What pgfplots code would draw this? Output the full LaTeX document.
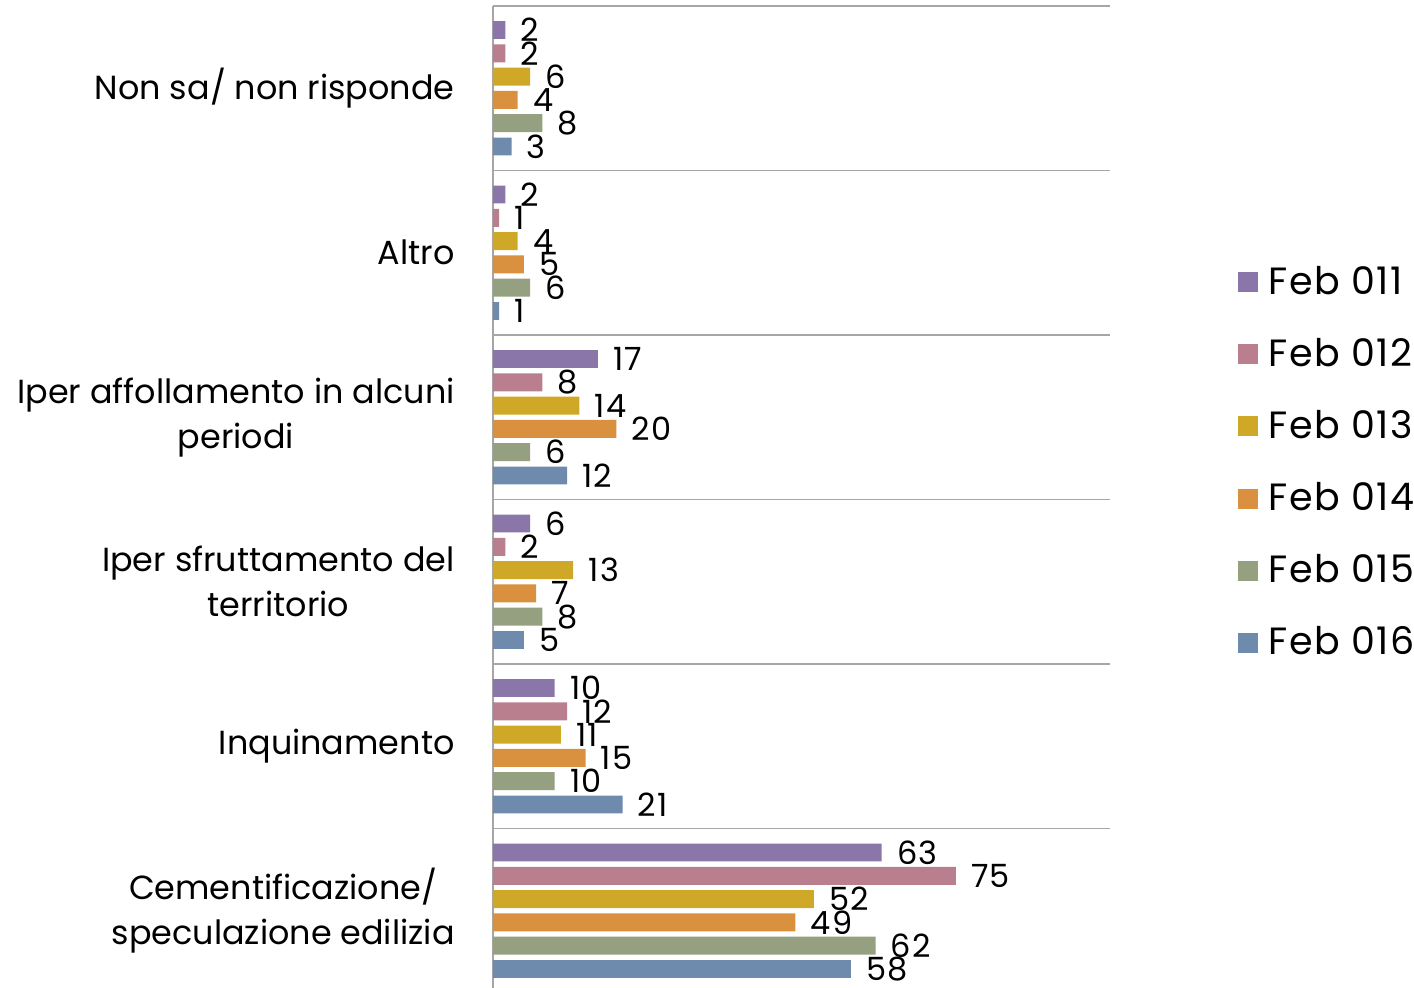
\documentclass[border=0pt]{standalone}
\usepackage{fontspec}
\setmainfont{Poppins}
\usepackage{pgfplots}
\pgfplotsset{compat=1.18}
\definecolor{c1}{HTML}{8B76A9}
\definecolor{c2}{HTML}{B97F8F}
\definecolor{c3}{HTML}{CFA828}
\definecolor{c4}{HTML}{D9903F}
\definecolor{c5}{HTML}{94A07F}
\definecolor{c6}{HTML}{6E8BAD}
\definecolor{gridc}{HTML}{A6A6A6}
\begin{document}
\begin{tikzpicture}[x=1pt,y=1pt]
\begin{axis}[
  at={(246.5pt,-2.5pt)}, anchor=south west,
  scale only axis, width=308.5pt, height=493.5pt,
  xbar, bar width=0.109,
  xmin=0, xmax=100, ymin=-0.5, ymax=5.5, y dir=reverse,
  axis line style={draw=none},
  clip=false,
  xtick=\empty,
  ytick={0,1,2,3,4,5},
  yticklabels={Non sa/ non risponde, Altro, {Iper affollamento in alcuni\\periodi}, {Iper sfruttamento del\\territorio}, Inquinamento, {Cementificazione/\\speculazione edilizia}},
  yticklabel style={align=center, inner sep=0pt, font=\fontsize{16.7}{22.5}\selectfont},
  yticklabel shift=19pt,
  major tick length=0pt, minor tick length=0pt,
  minor ytick={-0.5,0.5,1.5,2.5,3.5,4.5,5.5},
  yminorgrids, minor y grid style={color=gridc, line width=0.6pt},
  extra x ticks={0}, extra x tick labels={},
  extra x tick style={grid=major, major grid style={color=gridc, line width=0.6pt}},
  nodes near coords,
  every node near coord/.append style={anchor=west, inner sep=0pt, xshift=7.5pt, font=\fontsize{16}{16}\selectfont\addfontfeature{LetterSpace=4}, text=black},
  /pgf/number format/assume math mode=true,
  legend style={at={(1.2075,0.538)}, anchor=west, draw=none, fill=none, inner sep=0pt,
    nodes={inner sep=0pt}, column sep=5pt, row sep=20.5pt,
    font=\fontsize{19}{22}\selectfont\addfontfeature{LetterSpace=4}},
  legend cell align=left,
  legend image code/.code={\fill[#1] (0pt,-5.25pt) rectangle (10pt,4.75pt);},
]
\addplot[fill=c1, draw=none, bar shift=-0.354] coordinates {(2,0) (2,1) (17,2) (6,3) (10,4) (63,5)};
\addplot[fill=c2, draw=none, bar shift=-0.2125] coordinates {(2,0) (1,1) (8,2) (2,3) (12,4) (75,5)};
\addplot[fill=c3, draw=none, bar shift=-0.0708] coordinates {(6,0) (4,1) (14,2) (13,3) (11,4) (52,5)};
\addplot[fill=c4, draw=none, bar shift=0.0708] coordinates {(4,0) (5,1) (20,2) (7,3) (15,4) (49,5)};
\addplot[fill=c5, draw=none, bar shift=0.2125] coordinates {(8,0) (6,1) (6,2) (8,3) (10,4) (62,5)};
\addplot[fill=c6, draw=none, bar shift=0.354] coordinates {(3,0) (1,1) (12,2) (5,3) (21,4) (58,5)};
\legend{Feb 011, Feb 012, Feb 013, Feb 014, Feb 015, Feb 016}
\end{axis}
\pgfresetboundingbox
\useasboundingbox (0,0) rectangle (707,494);
\end{tikzpicture}
\end{document}
